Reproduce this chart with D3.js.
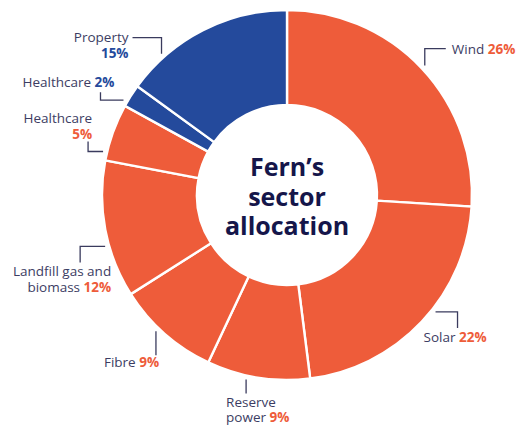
<!DOCTYPE html>
<html>
<head>
<meta charset="utf-8">
<script src="https://cdn.jsdelivr.net/npm/d3@7/dist/d3.min.js"></script>
<style>
  html, body { margin: 0; padding: 0; background: #fff; }
  svg { display: block; }
  .label { font-family: 'Open Sans', sans-serif; font-size: 13.5px; fill: #3c3d63; }
  .label .pct { font-weight: 700; }
  .title { font-family: 'Open Sans', sans-serif; font-weight: 700; font-size: 25px; fill: #15164a; }
</style>
</head>
<body>
<div id="chart"></div>
<script>
// data
const categories = ['Wind', 'Solar', 'Reserve power', 'Fibre', 'Landfill gas and biomass', 'Healthcare', 'Healthcare', 'Property'];
const values = [26, 22, 9, 9, 12, 5, 2, 15];
const groups = ['energy', 'energy', 'energy', 'energy', 'energy', 'energy', 'other', 'other'];
const titleLines = ['Fern\u2019s', 'sector', 'allocation'];

// label layout: leader anchor nudge (deg), leader path relative to anchor, text lines relative to leader end
const labelLayout = [
  { nudge: 0, leg: [[0, -17], [21, 0]], anchor: 'start', dx: 6, lines: [{ dy: 5, parts: ['name', 'pct'] }] },
  { nudge: -5, leg: [[22, 0], [0, 16]], anchor: 'start', dx: -34, lines: [{ dy: 14, parts: ['name', 'pct'] }] },
  { nudge: 3.5, leg: [[0, 14]], anchor: 'start', dx: -20, lines: [{ dy: 13, text: 'Reserve' }, { dy: 28, text: 'power', parts: ['pct'] }] },
  { nudge: 2.5, leg: [[0, 24]], anchor: 'start', dx: -52, lines: [{ dy: 12, parts: ['name', 'pct'] }] },
  { nudge: -5, leg: [[-25, 0], [0, 16]], anchor: 'end', dx: 31, lines: [{ dy: 14, text: 'Landfill gas and' }, { dy: 30, text: 'biomass', parts: ['pct'] }] },
  { nudge: -6.5, leg: [[-15, 0], [0, -10]], anchor: 'end', dx: 4, lines: [{ dy: -19, parts: ['name'] }, { dy: -3, parts: ['pct'] }] },
  { nudge: -2.3, leg: [[-23, 0], [0, -8]], anchor: 'end', dx: 14, lines: [{ dy: -5, parts: ['name', 'pct'] }] },
  { nudge: -14.6, leg: [[0, -16], [-29, 0]], anchor: 'end', dx: -4, lines: [{ dy: 4, parts: ['name'] }, { dy: 20, parts: ['pct'] }] },
];

const width = 519;
const height = 427;
const cx = 287;
const cy = 195;
const outerR = 185;
const innerR = 90;
const leaderR = 189;

const color = d3.scaleOrdinal().domain(['energy', 'other']).range(['#ee5c3a', '#244a9c']);
const LINE = '#3a3b5e';

const data = categories.map((c, i) => ({ name: c, value: values[i], group: groups[i], layout: labelLayout[i] }));

const $svg = d3.select('#chart').append('svg')
  .attr('width', width)
  .attr('height', height);

const $vis = $svg.append('g').attr('transform', `translate(${cx}, ${cy})`);

const pie = d3.pie().sort(null).value(d => d.value);
const arc = d3.arc().innerRadius(innerR).outerRadius(outerR);
const arcs = pie(data);

$vis.selectAll('.slice')
  .data(arcs)
  .join('path')
  .attr('class', 'slice')
  .attr('d', arc)
  .attr('fill', d => color(d.data.group))
  .attr('stroke', '#fff')
  .attr('stroke-width', 2.4)
  .attr('stroke-linejoin', 'miter');

// leaders + labels
const $labels = $vis.selectAll('.label')
  .data(arcs)
  .join('g')
  .attr('class', 'label');

$labels.each(function (d) {
  const $g = d3.select(this);
  const L = d.data.layout;
  const a = (d.startAngle + d.endAngle) / 2 + (L.nudge * Math.PI) / 180;
  let x = leaderR * Math.sin(a);
  let y = -leaderR * Math.cos(a);
  const path = d3.path();
  path.moveTo(x, y);
  L.leg.forEach(([lx, ly]) => {
    x += lx;
    y += ly;
    path.lineTo(x, y);
  });
  $g.append('path')
    .attr('d', path.toString())
    .attr('fill', 'none')
    .attr('stroke', LINE)
    .attr('stroke-width', 1.3);

  const pctColor = color(d.data.group);
  L.lines.forEach(line => {
    const $t = $g.append('text')
      .attr('x', x + L.dx)
      .attr('y', y + line.dy)
      .attr('text-anchor', L.anchor);
    const parts = [];
    if (line.text) parts.push({ t: line.text, pct: false });
    (line.parts || []).forEach(p => {
      if (p === 'name') parts.push({ t: d.data.name, pct: false });
      else parts.push({ t: `${d.data.value}%`, pct: true });
    });
    parts.forEach((p, i) => {
      $t.append('tspan')
        .attr('class', p.pct ? 'pct' : null)
        .attr('fill', p.pct ? pctColor : null)
        .text((i > 0 ? ' ' : '') + p.t);
    });
  });
});

// centre title
$vis.append('text')
  .attr('class', 'title')
  .attr('text-anchor', 'middle')
  .selectAll('tspan')
  .data(titleLines)
  .join('tspan')
  .attr('x', 0)
  .attr('y', (d, i) => -19 + i * 29.5)
  .text(d => d);
</script>
</body>
</html>
